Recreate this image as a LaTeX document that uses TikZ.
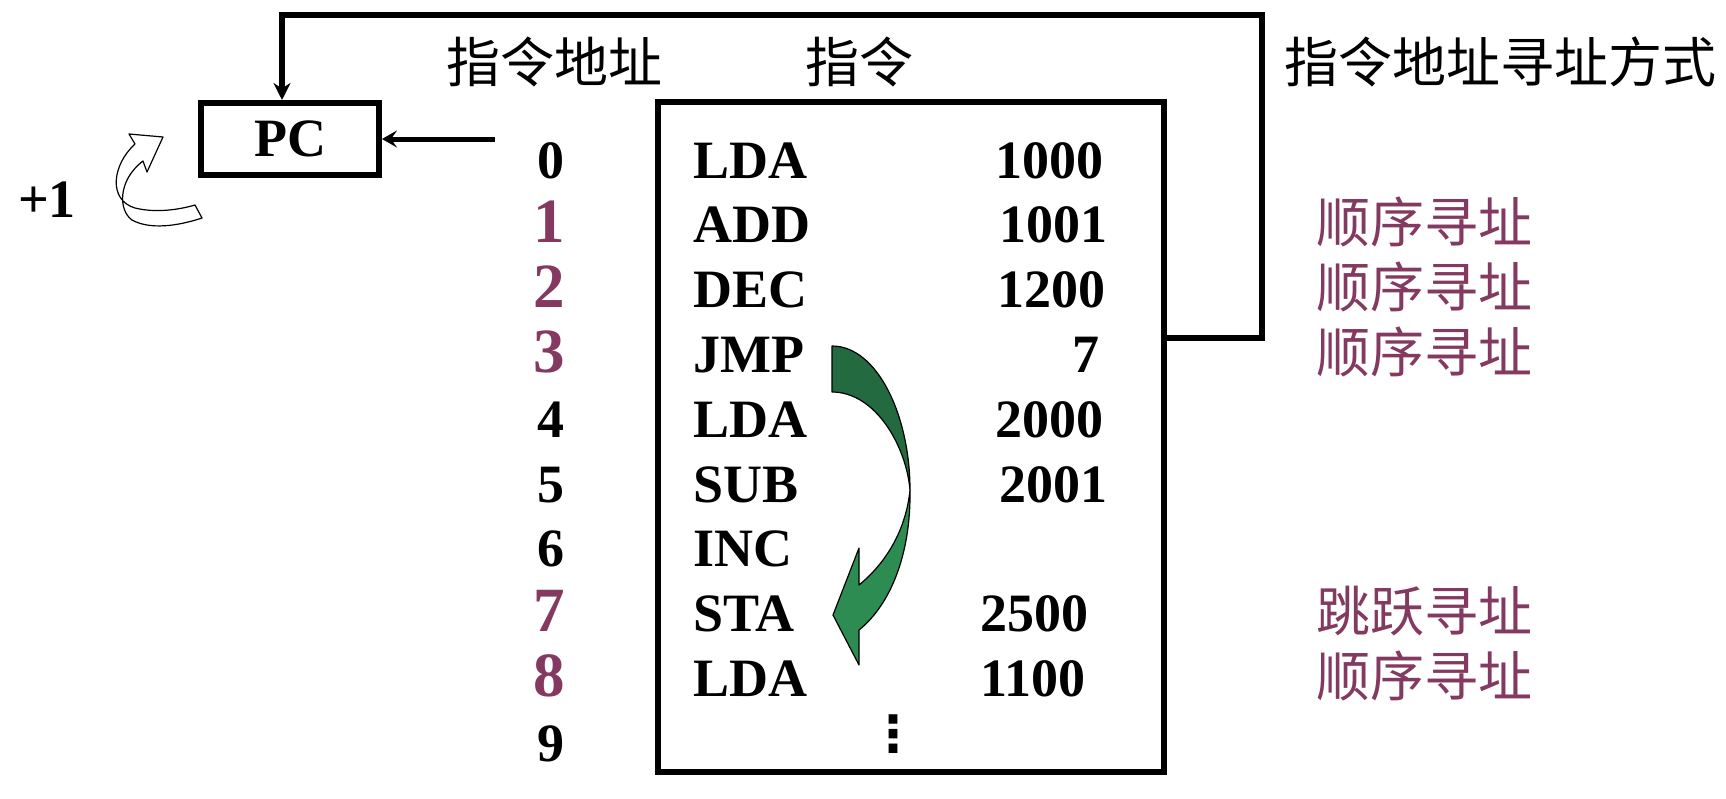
\documentclass[tikz,border=0pt]{standalone}
\usepackage{fontspec}
\setmainfont{Liberation Serif}
\newfontfamily\cjk{Noto Sans CJK SC}
\newfontfamily\symfont{DejaVu Sans}
\usetikzlibrary{arrows.meta}
\definecolor{addrpurple}{RGB}{132,58,96}
\definecolor{jumpdark}{RGB}{35,106,64}
\definecolor{jumplight}{RGB}{45,140,82}
\newcommand{\insfont}{\fontsize{54}{60}\selectfont\bfseries}
\newcommand{\bigaddr}{\fontsize{63}{70}\selectfont\bfseries}
\newcommand{\cjkfont}{\fontsize{54}{60}\selectfont\cjk}

\begin{document}
\begin{tikzpicture}[x=1pt, y=-1pt,
  txt/.style={inner sep=0pt, font=\insfont},
  addr/.style={txt, anchor=base},
  hotaddr/.style={addr, font=\bigaddr, text=addrpurple},
  mode/.style={inner sep=0pt, anchor=base west, font=\cjkfont, text=addrpurple},
  head/.style={inner sep=0pt, anchor=base, font=\cjkfont},
  link/.style={line width=6pt},
  outline/.style={line width=1.2pt, line join=round}]
  \useasboundingbox (0,0) rectangle (1726,798);
  % PC register and instruction memory
  \node[draw, line width=6pt, minimum width=178pt, minimum height=72pt, font=\insfont] (pc) at (290,139) {PC};
  \node[draw, line width=6pt, minimum width=506pt, minimum height=670pt] (mem) at (911,437) {};
  % Column heads
  \node[head, anchor=base west] (hdaddr) at (446,82) {指令地址};
  \node[head] (hdins) at (859,82) {指令};
  \node[head, anchor=base west] (hdmode) at (1284,82) {指令地址寻址方式};
  % Addresses
  \foreach \i in {0,4,5,6,9}
    \node[addr] (a\i) at (551,{178+64.8*\i}) {\i};
  \foreach \i in {1,2,3,7,8}
    \node[hotaddr] (a\i) at (549,{178+64.8*\i}) {\i};
  % Instructions
  \foreach \i/\op in {0/LDA,1/ADD,2/DEC,3/JMP,4/LDA,5/SUB,6/INC,7/STA,8/LDA}
    \node[txt, anchor=base west] (op\i) at (693,{178+64.8*\i}) {\op};
  \foreach \i/\arg/\ax in {0/1000/1104,1/1001/1108,2/1200/1106,3/7/1100,4/2000/1104,5/2001/1108,7/2500/1089,8/1100/1086}
    \node[txt, anchor=base east] (arg\i) at (\ax,{178+64.8*\i}) {\arg};
  \node[inner sep=0pt, font=\fontsize{50}{56}\selectfont\symfont\bfseries] (dots) at (893,734) {⋮};
  % Addressing modes
  \foreach \i/\m in {1/顺序寻址,2/顺序寻址,3/顺序寻址,7/跳跃寻址,8/顺序寻址}
    \node[mode] (m\i) at (1316,{178+64.8*\i}) {\m};
  % Connectors
  \coordinate (loopcorner) at (1262,15);
  \coordinate (pcin) at (495,139);
  \draw[link, -{Stealth[length=17pt,width=17pt]}] ([yshift=99pt]mem.east) -| (loopcorner) -| ([xshift=-8pt]pc.north);
  \draw[link, line width=5pt, -{Stealth[length=15pt,width=17pt,inset=6pt]}] (pcin) -- (pc.east);
  % +1 arrow
  \node[txt, anchor=base] (inc) at (47,217) {+1};
  \draw[outline, fill=white] (135,144) .. controls (112,165) and (108,200) .. (135,208)
    .. controls (155,213) and (178,210) .. (195,205) -- (202,218)
    .. controls (178,226) and (150,230) .. (132,220)
    .. controls (118,210) and (118,180) .. (143,161) -- (147,172) -- (163,137) -- (129,134) -- cycle;
  % jump arrow
  \draw[outline, fill=jumpdark] (832,346) .. controls (877,346) and (910,415) .. (910,490)
    .. controls (906,445) and (875,392) .. (832,392) -- cycle;
  \draw[outline, fill=jumplight] (910,490) .. controls (911,555) and (890,605) .. (859,630)
    -- (859,665) -- (833,615) -- (859,548) -- (859,585)
    .. controls (886,563) and (906,530) .. (910,490) -- cycle;
\end{tikzpicture}
\end{document}
